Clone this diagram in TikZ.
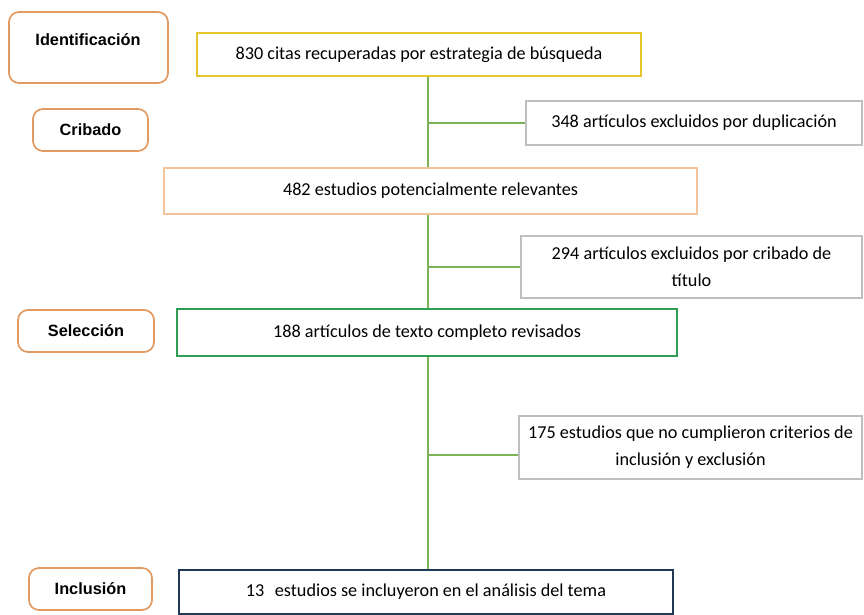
\documentclass[tikz,border=0pt]{standalone}
\usepackage{fontspec}
\setmainfont{Carlito}
\newfontfamily\lblfont{Liberation Sans}
\definecolor{cyel}{HTML}{E6C52E}
\definecolor{cpeach}{HTML}{F2C49B}
\definecolor{cgreen}{HTML}{2F9E55}
\definecolor{cnavy}{HTML}{203A55}
\definecolor{cgray}{HTML}{BFBFBF}
\definecolor{cconn}{HTML}{7CB357}
\definecolor{corange}{HTML}{E09A62}
\begin{document}
\begin{tikzpicture}[x=1pt,y=-1pt,
  mainbox/.style={draw, line width=2.8pt, rectangle, inner sep=0pt, align=center,
    font=\fontsize{18.2}{22}\selectfont},
  sidebox/.style={draw=cgray, line width=2.8pt, rectangle, inner sep=0pt, align=center,
    font=\fontsize{18.2}{27}\selectfont},
  lblbox/.style={draw=corange, line width=1.7pt, rounded corners=10pt, rectangle, inner sep=0pt,
    font=\lblfont\bfseries\fontsize{16.3}{18}\selectfont},
  conn/.style={draw=cconn, line width=2.8pt}]
\useasboundingbox (0,0) rectangle (864,615);
\fill[white] (0,0) rectangle (864,615);
% stage labels
\node[lblbox, minimum width=159pt, minimum height=71pt] (l1) at (88.5,47.5) {};
\node[font=\lblfont\bfseries\fontsize{16.3}{18}\selectfont] (l1t) at (88,40) {Identificación};
\node[lblbox, minimum width=115pt, minimum height=42pt] (l2) at (90.5,130) {Cribado};
\node[lblbox, minimum width=136pt, minimum height=42pt] (l3) at (86,331) {Selección};
\node[lblbox, minimum width=123pt, minimum height=42pt] (l4) at (90.5,589) {Inclusión};
% main boxes
\node[mainbox, draw=cyel, minimum width=444pt, minimum height=43pt] (b1) at (419,54.5)
  {830 citas recuperadas por estrategia de búsqueda};
\node[mainbox, draw=cpeach, minimum width=533pt, minimum height=46pt] (b2) at (430.5,191)
  {482 estudios potencialmente relevantes};
\node[mainbox, draw=cgreen, minimum width=500pt, minimum height=47pt] (b3) at (427,332.5)
  {188 artículos de texto completo revisados};
\node[mainbox, draw=cnavy, minimum width=494pt, minimum height=44pt] (b4) at (426,592)
  {13\hspace{0.35em} estudios se incluyeron en el análisis del tema};
% side boxes
\node[sidebox, minimum width=336pt, minimum height=44pt] (s1) at (694,123)
  {348 artículos excluidos por duplicación};
\node[sidebox, minimum width=341pt, minimum height=62pt] (s2) at (691.5,267)
  {294 artículos excluidos por cribado de\\título};
\node[sidebox, minimum width=343pt, minimum height=63pt] (s3) at (690.5,447.5)
  {175 estudios que no cumplieron criterios de\\inclusión y exclusión};
% trunk
\coordinate (t) at (428,0);
\draw[conn] (b1.south -| t) -- (b2.north -| t);
\draw[conn] (b2.south -| t) -- (b3.north -| t);
\draw[conn] (b3.south -| t) -- (b4.north -| t);
\draw[conn] (s1.west -| t) -- (s1.west);
\draw[conn] (s2.west -| t) -- (s2.west);
\coordinate (j3) at (428,455);
\draw[conn] (j3) -- (j3 -| s3.west);
\end{tikzpicture}
\end{document}
